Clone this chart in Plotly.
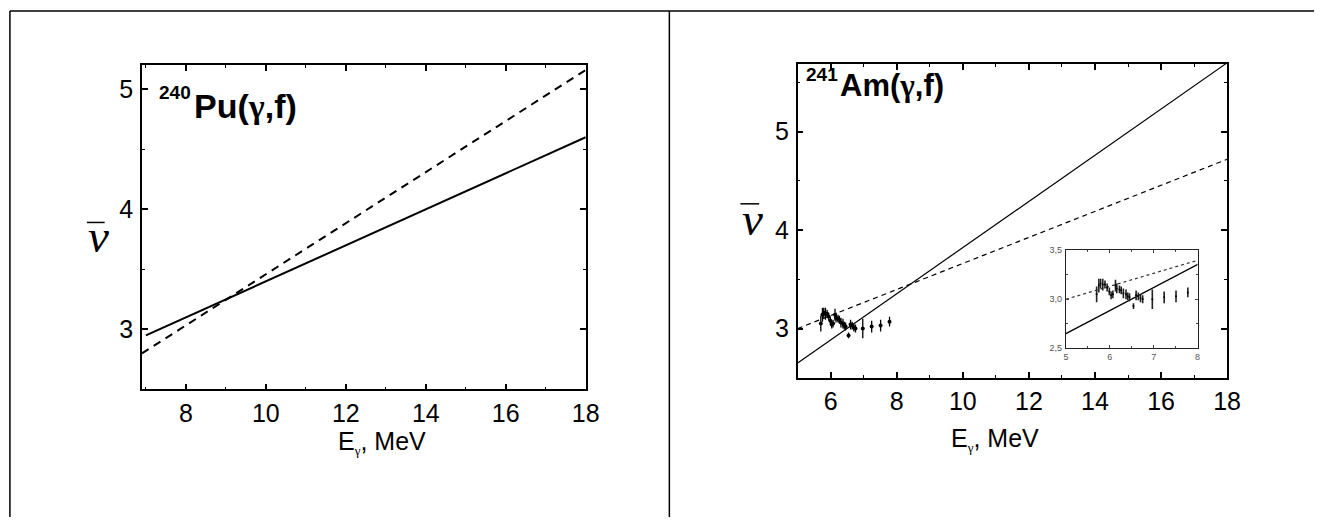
import plotly.graph_objects as go

W, H = 1328, 522

# 240Pu(g,f) panel
pu_x_solid = [7.0, 18.0]
pu_nu_solid = [2.95, 4.60]
pu_x_dash = [6.9, 18.0]
pu_nu_dash = [2.80, 5.16]

# 241Am(g,f) panel
am_x = [5.0, 18.0]
am_nu_solid = [2.65, 5.70]
am_nu_dash = [3.00, 4.72]

# experimental points 241Am
exp_e = [5.70, 5.75, 5.79, 5.84, 5.89, 5.94, 5.99, 6.03, 6.07, 6.13, 6.16, 6.22, 6.26,
         6.31, 6.37, 6.41, 6.45, 6.54, 6.60, 6.65, 6.70, 6.75, 6.97, 7.24, 7.51, 7.78]
exp_nu = [3.05, 3.14, 3.16, 3.15, 3.15, 3.12, 3.08, 3.04, 3.05, 3.14, 3.11, 3.10, 3.09,
          3.06, 3.05, 3.03, 3.02, 2.93, 3.04, 3.03, 3.01, 3.00, 3.00, 3.02, 3.03, 3.07]
exp_err = [0.08, 0.07, 0.05, 0.06, 0.04, 0.04, 0.04, 0.04, 0.04, 0.06, 0.05, 0.04, 0.04,
           0.05, 0.05, 0.04, 0.04, 0.03, 0.05, 0.04, 0.04, 0.04, 0.10, 0.06, 0.06, 0.05]

inset_yticks = [2.5, 3.0, 3.5]
inset_ytext = ["2,5", "3,0", "3,5"]

FONT = "Liberation Sans, Arial, sans-serif"
SERIF = "Liberation Serif, Times New Roman, serif"


def px(x):
    return x / W


def py(y):
    return 1 - y / H


fig = go.Figure()

fig.add_trace(go.Scatter(x=pu_x_solid, y=pu_nu_solid, mode="lines",
                         line=dict(color="black", width=2), xaxis="x", yaxis="y"))
fig.add_trace(go.Scatter(x=pu_x_dash, y=pu_nu_dash, mode="lines",
                         line=dict(color="black", width=2, dash="8px,6px"), xaxis="x", yaxis="y"))

fig.add_trace(go.Scatter(x=am_x, y=am_nu_solid, mode="lines",
                         line=dict(color="black", width=1.2), xaxis="x2", yaxis="y2"))
fig.add_trace(go.Scatter(x=am_x, y=am_nu_dash, mode="lines",
                         line=dict(color="black", width=1.2, dash="5px,4px"), xaxis="x2", yaxis="y2"))
fig.add_trace(go.Scatter(x=exp_e, y=exp_nu, mode="markers",
                         marker=dict(color="black", size=4),
                         error_y=dict(type="data", array=exp_err, color="black", thickness=1.3, width=0),
                         xaxis="x2", yaxis="y2"))

# inset
fig.add_trace(go.Scatter(x=am_x, y=am_nu_solid, mode="lines",
                         line=dict(color="black", width=1.3), xaxis="x3", yaxis="y3"))
fig.add_trace(go.Scatter(x=am_x, y=am_nu_dash, mode="lines",
                         line=dict(color="#333", width=1.2, dash="dot"), xaxis="x3", yaxis="y3"))
fig.add_trace(go.Scatter(x=exp_e, y=exp_nu, mode="markers",
                         marker=dict(color="black", size=2),
                         error_y=dict(type="data", array=exp_err, color="#222", thickness=1.6, width=0),
                         xaxis="x3", yaxis="y3"))

ax = dict(showline=True, linecolor="black", linewidth=1.5, mirror="allticks",
          ticks="inside", ticklen=6, tickwidth=1.5, tickcolor="black",
          showgrid=False, zeroline=False,
          tickfont=dict(family=FONT, size=25, color="black"))

fig.update_layout(
    width=W, height=H, margin=dict(l=0, r=0, t=0, b=0),
    paper_bgcolor="white", plot_bgcolor="white", showlegend=False,
    xaxis=dict(ax, domain=[px(140.7), px(590.3)], range=[6.9, 18], dtick=2, tick0=0,
               ticklabelstandoff=1, anchor="y",
               minor=dict(ticks="inside", ticklen=3, tickwidth=1.2, dtick=1, tick0=0)),
    yaxis=dict(ax, domain=[py(392), py(61.3)], range=[2.5, 5.2], dtick=1, tick0=0,
               ticklabelstandoff=2, anchor="x",
               minor=dict(ticks="inside", ticklen=3, tickwidth=1.2, dtick=0.5, tick0=0)),
    xaxis2=dict(ax, domain=[px(805), px(1240)], range=[5, 18], dtick=2, tick0=0,
                ticklabelstandoff=1, anchor="y2",
                minor=dict(ticks="inside", ticklen=3, tickwidth=1.2, dtick=1, tick0=0)),
    yaxis2=dict(ax, domain=[py(380), py(60)], range=[2.5, 5.69], dtick=1, tick0=0,
                ticklabelstandoff=2, anchor="x2",
                minor=dict(ticks="inside", ticklen=3, tickwidth=1.2, dtick=0.5, tick0=0)),
    xaxis3=dict(showline=True, linecolor="#222", linewidth=1, mirror="allticks",
                ticks="inside", ticklen=3, tickwidth=1, tickcolor="#444",
                showgrid=False, zeroline=False, domain=[px(1076.7), px(1210)],
                range=[5, 8], dtick=1, tick0=0, anchor="y3", ticklabelstandoff=0,
                tickfont=dict(family=FONT, size=9, color="#555"),
                minor=dict(ticks="inside", ticklen=2, tickwidth=1, dtick=0.5, tick0=0)),
    yaxis3=dict(showline=True, linecolor="#222", linewidth=1, mirror="allticks",
                ticks="inside", ticklen=3, tickwidth=1, tickcolor="#444",
                showgrid=False, zeroline=False, domain=[py(350), py(250)],
                range=[2.5, 3.5], tickvals=inset_yticks, ticktext=inset_ytext,
                anchor="x3", ticklabelstandoff=1,
                tickfont=dict(family=FONT, size=9, color="#555"),
                minor=dict(ticks="inside", ticklen=2, tickwidth=1, dtick=0.25, tick0=0)),
)


def label(x, y, text, size, bold=False, family=FONT, anchor="left"):
    if bold:
        text = "<b>" + text + "</b>"
    fig.add_annotation(x=px(x), y=py(y), xref="paper", yref="paper", text=text,
                       showarrow=False, xanchor=anchor, yanchor="middle",
                       font=dict(family=family, size=size, color="black"))


gamma = "<span style='font-family:Liberation Serif'>γ</span>"

# reaction labels
label(155.5, 89, "240", 19, bold=True)
label(191, 103, "Pu(" + gamma + ",f)", 34, bold=True)
label(811.5, 71, "241", 19, bold=True)
label(845.5, 82, "Am(" + gamma + ",f)", 31, bold=True)

# axis titles
sub = "<sub><span style='font-size:13px;font-family:Liberation Serif'>γ</span></sub>"
label(337, 446, "E" + sub + ", MeV", 25)
label(958, 443, "E" + sub + ", MeV", 25)

label(97, 236, "<i>ν</i>", 47, family=SERIF, anchor="center")
label(759, 218, "<i>ν</i>", 47, family=SERIF, anchor="center")

shapes = [
    # overlines of nu
    dict(x0=85, x1=103, y0=221.7, y1=221.7),
    dict(x0=747, x1=766, y0=202.7, y1=202.7),
    # outer frame
    dict(x0=7, x1=W, y0=6, y1=6),
    dict(x0=7, x1=7, y0=6, y1=H),
    dict(x0=675, x1=675, y0=6, y1=H),
]
for s in shapes:
    fig.add_shape(type="line", xref="paper", yref="paper",
                  x0=px(s["x0"]), x1=px(s["x1"]), y0=py(s["y0"]), y1=py(s["y1"]),
                  line=dict(color="black", width=1.5))

fig.write_html("out.html", config={"displayModeBar": False},
               post_script="document.body.style.margin='0';"
                           "document.body.style.overflow='hidden';"
                           "document.documentElement.style.overflow='hidden';")
